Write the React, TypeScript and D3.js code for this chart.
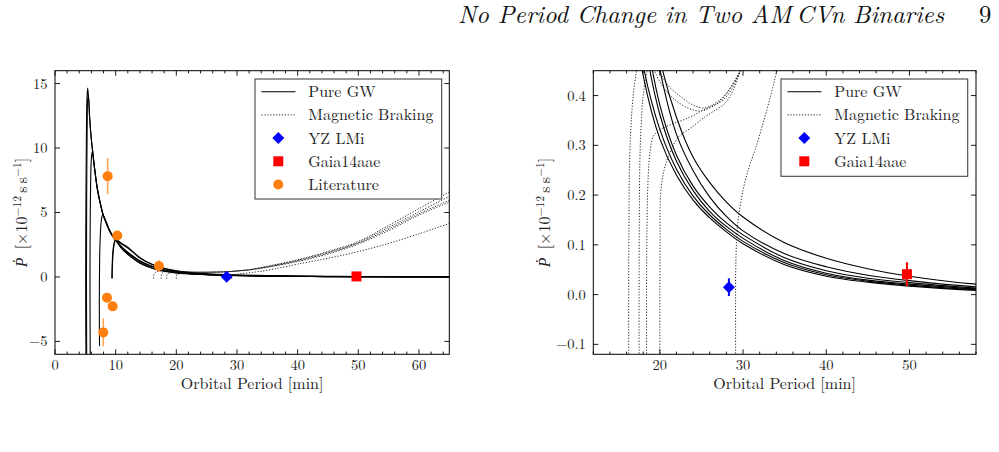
import React from "react";
import * as d3 from "d3";

type Pt = [number, number];

// Pure gravitational-wave evolution tracks: [orbital period (min), Pdot (1e-12 s/s)]
const gwTrackA: Pt[] = [
  [5.12, -8], [5.07, -3], [5.06, 0], [5.09, 5], [5.16, 10], [5.26, 13.6], [5.38, 14.66],
  [5.5, 14.1], [5.7, 12.4], [6.0, 10.6], [6.2, 9.75], [6.6, 8.1], [7.0, 6.75], [7.5, 5.6],
  [7.9, 4.85], [8.5, 4.1], [9, 3.55], [9.5, 3.15], [10, 2.85], [11, 2.2], [12, 1.75],
  [14, 1.07], [16, 0.68], [18, 0.44], [20, 0.313], [22, 0.24], [24, 0.19], [26, 0.154],
  [28, 0.126], [30, 0.102], [35, 0.06], [40, 0.037], [45, 0.025], [50, 0.017], [58, 0.0085], [65, 0.0055],
];
const gwTrackB: Pt[] = [
  [5.24, -8], [5.2, -3], [5.19, 0], [5.22, 6], [5.3, 11.5], [5.42, 13.9], [5.52, 14.0],
  [5.72, 12.3], [6.0, 10.65], [6.2, 9.8], [6.6, 8.15], [7.0, 6.8], [7.5, 5.65], [7.9, 4.88],
  [8.5, 4.12], [9, 3.57], [9.5, 3.17], [10, 2.87], [11, 2.23], [12, 1.78], [14, 1.1],
  [16, 0.7], [18, 0.46], [20, 0.332], [22, 0.252], [24, 0.198], [26, 0.16], [28, 0.131],
  [30, 0.107], [35, 0.064], [40, 0.04], [45, 0.027], [50, 0.019], [58, 0.01], [65, 0.0065],
];
const gwTrackC: Pt[] = [
  [5.82, -8], [5.78, -3], [5.77, 0], [5.8, 4], [5.88, 7.5], [6.0, 9.2], [6.15, 9.74],
  [6.3, 9.3], [6.6, 8.15], [7.0, 6.8], [7.5, 5.67], [7.9, 4.9], [8.5, 4.15], [9, 3.6],
  [9.5, 3.2], [10, 2.9], [11, 2.3], [12, 1.88], [14, 1.2], [16, 0.79], [18, 0.525],
  [20, 0.362], [22, 0.268], [24, 0.209], [26, 0.167], [28, 0.137], [30, 0.113], [35, 0.068],
  [40, 0.043], [45, 0.029], [50, 0.021], [58, 0.0115], [65, 0.0075],
];
const gwTrackD: Pt[] = [
  [7.34, -5.35], [7.31, -3], [7.32, -0.5], [7.36, 1.5], [7.45, 3.0], [7.6, 4.2], [7.78, 4.75],
  [7.92, 4.8], [8.1, 4.65], [8.5, 4.2], [9, 3.62], [9.5, 3.22], [10, 2.92], [11, 2.34],
  [12, 1.93], [14, 1.25], [16, 0.83], [18, 0.56], [20, 0.381], [22, 0.28], [24, 0.218],
  [26, 0.176], [28, 0.144], [30, 0.12], [35, 0.074], [40, 0.048], [45, 0.033], [50, 0.024],
  [58, 0.013], [65, 0.0085],
];
const gwTrackE: Pt[] = [
  [9.42, -0.12], [9.46, 0.8], [9.55, 1.7], [9.67, 2.3], [9.82, 2.68], [10, 2.9], [11, 2.55],
  [12, 2.25], [14, 1.47], [16, 0.97], [18, 0.66], [20, 0.452], [22, 0.322], [24, 0.249],
  [26, 0.196], [28, 0.157], [30, 0.128], [35, 0.082], [40, 0.056], [45, 0.039], [50, 0.028],
  [58, 0.0155], [65, 0.0105],
];
const gwTrackF: Pt[] = [
  [9.38, -0.1], [9.42, 0.8], [9.5, 1.7], [9.62, 2.3], [9.78, 2.7], [10, 2.92], [11, 2.6],
  [12, 2.3], [14, 1.5], [16, 0.99], [18, 0.675], [20, 0.474], [22, 0.356], [24, 0.276],
  [26, 0.225], [28, 0.186], [30, 0.156], [35, 0.104], [40, 0.073], [45, 0.052], [50, 0.037],
  [58, 0.021], [65, 0.0145],
];

// Tracks including magnetic braking
const mbTrackA: Pt[] = [
  [16.26, -0.13], [16.25, -0.08], [16.25, 0.0], [16.28, 0.12], [16.33, 0.237], [16.5, 0.33],
  [16.8, 0.4], [17.2, 0.45], [17.8, 0.49], [18.5, 0.485], [19.2, 0.455], [20.5, 0.415],
  [22.0, 0.389], [23.5, 0.374], [24.8, 0.369], [26.0, 0.375], [27.25, 0.389], [28.5, 0.415],
  [29.65, 0.449], [30.5, 0.485], [32, 0.57], [35, 0.83], [40, 1.34], [45, 1.98], [50, 2.75],
  [55, 4.0], [60, 5.3], [65, 6.6],
];
const mbTrackB: Pt[] = [
  [17.51, -0.13], [17.5, -0.08], [17.5, 0.0], [17.53, 0.15], [17.6, 0.27], [17.75, 0.34],
  [18.0, 0.4], [18.5, 0.45], [19.2, 0.47], [19.9, 0.45], [21.0, 0.42], [22.5, 0.398],
  [24, 0.381], [25.3, 0.375], [26.5, 0.383], [27.7, 0.399], [28.8, 0.425], [29.8, 0.455],
  [31, 0.51], [32, 0.56], [35, 0.8], [40, 1.3], [45, 1.92], [50, 2.68], [55, 3.85],
  [60, 5.05], [65, 6.25],
];
const mbTrackC: Pt[] = [
  [18.41, -0.13], [18.4, -0.08], [18.4, 0.0], [18.45, 0.13], [18.6, 0.237], [18.85, 0.29],
  [19.2, 0.318], [20.0, 0.331], [20.8, 0.338], [21.8, 0.345], [22.8, 0.351], [24.0, 0.36],
  [25.2, 0.371], [26.4, 0.38], [27.6, 0.391], [28.7, 0.415], [29.65, 0.45], [31, 0.51],
  [32, 0.55], [35, 0.77], [40, 1.24], [45, 1.85], [50, 2.62], [55, 3.72], [60, 4.9], [65, 5.95],
];
const mbTrackD: Pt[] = [
  [20.01, -0.13], [20.0, -0.08], [20.0, 0.0], [20.03, 0.1], [20.1, 0.204], [20.5, 0.25],
  [21.0, 0.276], [22.2, 0.316], [23.8, 0.336], [25.4, 0.357], [26.6, 0.37], [27.8, 0.384],
  [28.8, 0.41], [29.6, 0.445], [31, 0.5], [32, 0.54], [35, 0.75], [40, 1.2], [45, 1.78],
  [50, 2.55], [55, 3.6], [60, 4.8], [65, 5.8],
];
const mbTrackE: Pt[] = [
  [29.11, -0.13], [29.1, -0.08], [29.1, -0.02], [29.12, 0.05], [29.25, 0.12], [29.45, 0.155],
  [30.0, 0.21], [30.7, 0.255], [31.45, 0.291], [32.5, 0.35], [33.4, 0.405], [34.07, 0.45],
  [35, 0.52], [37, 0.7], [40, 1.0], [45, 1.45], [50, 1.97], [55, 2.6], [60, 3.35], [65, 4.15],
];

const gwTracks = [gwTrackA, gwTrackB, gwTrackC, gwTrackD, gwTrackE, gwTrackF];
const mbTracks = [mbTrackA, mbTrackB, mbTrackC, mbTrackD, mbTrackE];

// Measured period derivatives: [period (min), Pdot, error]
const yzLMi: number[] = [28.3, 0.015, 0.018];
const gaia14aae: number[] = [49.7, 0.041, 0.024];

// Literature values
const litPeriod = [8.68, 10.27, 17.13, 8.57, 9.5, 7.96];
const litPdot = [7.82, 3.21, 0.85, -1.61, -2.28, -4.3];
const litErr = [1.4, 0.2, 0.45, 0.15, 0.15, 1.07];

const leftXTicks = [0, 10, 20, 30, 40, 50, 60];
const leftYTicks = [-5, 0, 5, 10, 15];
const rightXTicks = [20, 30, 40, 50];
const rightYTicks = [-0.1, 0, 0.1, 0.2, 0.3, 0.4];

const legendLabels = ["Pure GW", "Magnetic Braking", "YZ LMi", "Gaia14aae", "Literature"];

const SERIF = "Latin Modern Roman";
const DOT_FONT = "Liberation Serif";
const TEXT_COLOR = "#222";
const BLUE = "#0000ff";
const RED = "#ff0000";
const ORANGE = "#ff7f0e";

type Box = { l: number; r: number; t: number; b: number };

function diamondPath(cx: number, cy: number, s: number) {
  return `M${cx},${cy - s}L${cx + s},${cy}L${cx},${cy + s}L${cx - s},${cy}Z`;
}

function fmtMinus(s: string) {
  return s.replace("-", "\u2212");
}

type PanelProps = {
  id: string;
  box: Box;
  xDomain: [number, number];
  yDomain: [number, number];
  xTicks: number[];
  yTicks: number[];
  yFmt: (v: number) => string;
  yLabelX: number;
  legend: Box;
  legendCount: number;
  showLiterature: boolean;
};

function Panel(p: PanelProps) {
  const { box } = p;
  const x = d3.scaleLinear().domain(p.xDomain).range([box.l, box.r]);
  const y = d3.scaleLinear().domain(p.yDomain).range([box.b, box.t]);
  const line = d3
    .line<Pt>()
    .x((d) => x(d[0]))
    .y((d) => y(d[1]))
    .curve(d3.curveCatmullRom.alpha(0.5));

  const minorStep = 2;
  const xMinor = d3
    .range(Math.ceil(p.xDomain[0] / minorStep) * minorStep, p.xDomain[1] + 1e-9, minorStep)
    .filter((v) => !p.xTicks.includes(v));

  const majorLen = 5;
  const minorLen = 2.7;
  const midY = (box.t + box.b) / 2;
  const midX = (box.l + box.r) / 2;

  const lg = p.legend;
  const rowY0 = lg.t + 12.7;
  const rowStep = 23.2;
  const sampleL = lg.l + 6.5;
  const sampleR = lg.l + 40.5;
  const markX = lg.l + 23.3;
  const textX = lg.l + 53.3;

  return (
    <g>
      <defs>
        <clipPath id={p.id}>
          <rect x={box.l} y={box.t} width={box.r - box.l} height={box.b - box.t} />
        </clipPath>
      </defs>
      <g clipPath={`url(#${p.id})`}>
        {gwTracks.map((t, i) => (
          <path key={`gw${i}`} d={line(t) || ""} fill="none" stroke="#000" strokeWidth={1.1} />
        ))}
        {mbTracks.map((t, i) => (
          <path
            key={`mb${i}`}
            d={line(t) || ""}
            fill="none"
            stroke="#111"
            strokeWidth={0.9}
            strokeDasharray="1.2 1.7"
          />
        ))}
        {p.showLiterature &&
          litPeriod.map((P, i) => (
            <g key={`lit${i}`}>
              <line
                x1={x(P)}
                x2={x(P)}
                y1={y(litPdot[i] - litErr[i])}
                y2={y(litPdot[i] + litErr[i])}
                stroke={ORANGE}
                strokeOpacity={0.7}
                strokeWidth={1.6}
              />
              <circle cx={x(P)} cy={y(litPdot[i])} r={5} fill={ORANGE} />
            </g>
          ))}
        <line
          x1={x(yzLMi[0])}
          x2={x(yzLMi[0])}
          y1={y(yzLMi[1] - yzLMi[2])}
          y2={y(yzLMi[1] + yzLMi[2])}
          stroke={BLUE}
          strokeWidth={2}
        />
        <path d={diamondPath(x(yzLMi[0]), y(yzLMi[1]), 6)} fill={BLUE} />
        <line
          x1={x(gaia14aae[0])}
          x2={x(gaia14aae[0])}
          y1={y(gaia14aae[1] - gaia14aae[2])}
          y2={y(gaia14aae[1] + gaia14aae[2])}
          stroke={RED}
          strokeWidth={2}
        />
        <rect x={x(gaia14aae[0]) - 5} y={y(gaia14aae[1]) - 5} width={10} height={10} fill={RED} />
      </g>

      {/* axes frame */}
      <rect x={box.l} y={box.t} width={box.r - box.l} height={box.b - box.t} fill="none" stroke="#000" strokeWidth={1} />

      {/* ticks pointing inward on all four sides */}
      <g stroke="#000" strokeWidth={0.9}>
        {p.xTicks.map((v) => (
          <g key={`xt${v}`}>
            <line x1={x(v)} x2={x(v)} y1={box.b} y2={box.b - majorLen} />
            <line x1={x(v)} x2={x(v)} y1={box.t} y2={box.t + majorLen} />
          </g>
        ))}
        {xMinor.map((v) => (
          <g key={`xm${v}`}>
            <line x1={x(v)} x2={x(v)} y1={box.b} y2={box.b - minorLen} />
            <line x1={x(v)} x2={x(v)} y1={box.t} y2={box.t + minorLen} />
          </g>
        ))}
        {p.yTicks.map((v) => (
          <g key={`yt${v}`}>
            <line x1={box.l} x2={box.l + majorLen} y1={y(v)} y2={y(v)} />
            <line x1={box.r} x2={box.r - majorLen} y1={y(v)} y2={y(v)} />
          </g>
        ))}
      </g>

      <g style={{ fontFamily: SERIF }} fontSize={14.5} fill={TEXT_COLOR}>
        {p.xTicks.map((v) => (
          <text key={`xl${v}`} x={x(v)} y={box.b + 15.5} textAnchor="middle">
            {fmtMinus(String(v))}
          </text>
        ))}
        {p.yTicks.map((v) => (
          <text key={`yl${v}`} x={box.l - 7.5} y={y(v)} dy="0.34em" textAnchor="end">
            {p.yFmt(v)}
          </text>
        ))}
      </g>

      <text x={midX} y={box.b + 35} textAnchor="middle" style={{ fontFamily: SERIF }} fontSize={16} fill={TEXT_COLOR}>
        Orbital Period [min]
      </text>
      <text
        transform={`translate(${p.yLabelX},${midY}) rotate(-90)`}
        textAnchor="middle"
        style={{ fontFamily: SERIF }}
        fontSize={16}
        fill={TEXT_COLOR}
      >
        <tspan fontStyle="italic" style={{ fontFamily: DOT_FONT }}>{"\u1E56"}</tspan>
        <tspan>{"\u00a0[\u00d710"}</tspan>
        <tspan dy={-6.5} fontSize={11.5}>{"\u221212"}</tspan>
        <tspan dy={6.5}>{"\u2009s\u2009s"}</tspan>
        <tspan dy={-6.5} fontSize={11.5}>{"\u22121"}</tspan>
        <tspan dy={6.5}>]</tspan>
      </text>

      {/* legend */}
      <rect x={lg.l} y={lg.t} width={lg.r - lg.l} height={lg.b - lg.t} fill="#fff" stroke="#444" strokeWidth={1.1} />
      {legendLabels.slice(0, p.legendCount).map((label, i) => {
        const ry = rowY0 + i * rowStep;
        let mark: React.ReactNode = null;
        if (i === 0) mark = <line x1={sampleL} x2={sampleR} y1={ry} y2={ry} stroke="#000" strokeWidth={1.1} />;
        if (i === 1)
          mark = (
            <line x1={sampleL} x2={sampleR} y1={ry} y2={ry} stroke="#111" strokeWidth={0.9} strokeDasharray="1.2 1.7" />
          );
        if (i === 2) mark = <path d={diamondPath(markX, ry, 6)} fill={BLUE} />;
        if (i === 3) mark = <rect x={markX - 5} y={ry - 5} width={10} height={10} fill={RED} />;
        if (i === 4) mark = <circle cx={markX} cy={ry} r={5} fill={ORANGE} />;
        return (
          <g key={label}>
            {mark}
            <text x={textX} y={ry} dy="0.34em" style={{ fontFamily: SERIF }} fontSize={16} fill={TEXT_COLOR}>
              {label}
            </text>
          </g>
        );
      })}
    </g>
  );
}

export default function App() {
  return (
    <svg
      width={999}
      height={452}
      viewBox="0 0 999 452"
      style={{ position: "absolute", left: 0, top: 0, background: "#fff" }}
    >
      <rect x={0} y={0} width={999} height={452} fill="#fff" />
      <text x={458} y={23} style={{ fontFamily: SERIF }} fontStyle="italic" fontSize={24.7} fill="#111">
        {"No Period Change in Two AM\u2009CVn Binaries"}
      </text>
      <text x={979} y={23} style={{ fontFamily: SERIF }} fontSize={24.7} fill="#111">
        9
      </text>
      <Panel
        id="clip-left"
        box={{ l: 55, r: 449.3, t: 70.7, b: 354.3 }}
        xDomain={[0, 65]}
        yDomain={[-6, 16]}
        xTicks={leftXTicks}
        yTicks={leftYTicks}
        yFmt={(v) => fmtMinus(String(v))}
        yLabelX={27}
        legend={{ l: 255, r: 441.7, t: 79, b: 199 }}
        legendCount={5}
        showLiterature={true}
      />
      <Panel
        id="clip-right"
        box={{ l: 593.3, r: 976, t: 70.7, b: 354.3 }}
        xDomain={[12, 58]}
        yDomain={[-0.12, 0.45]}
        xTicks={rightXTicks}
        yTicks={rightYTicks}
        yFmt={(v) => fmtMinus(v.toFixed(1))}
        yLabelX={550}
        legend={{ l: 781, r: 967.7, t: 79, b: 176.3 }}
        legendCount={4}
        showLiterature={false}
      />
    </svg>
  );
}
